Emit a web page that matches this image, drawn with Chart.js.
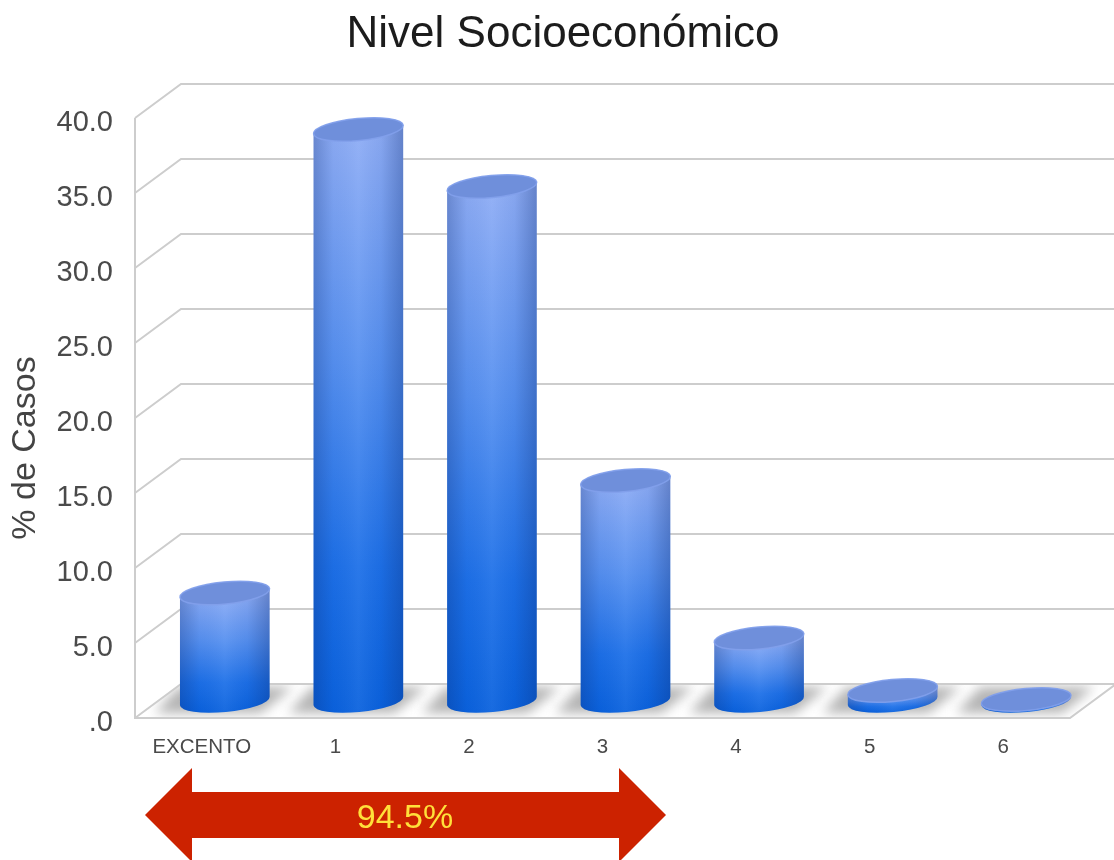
<!DOCTYPE html>
<html lang="es">
<head>
<meta charset="utf-8">
<title>Nivel Socioeconómico</title>
<script src="https://cdn.jsdelivr.net/npm/chart.js@4"></script>
<style>
    html, body { margin: 0; padding: 0; background: #fff; overflow: hidden; }
    canvas { display: block; }
</style>
</head>
<body>
<canvas id="chartNivel" width="1114" height="860"></canvas>
<script>
// Datos
const categorias = ['EXCENTO', '1', '2', '3', '4', '5', '6'];
const porcentajes = [7.2, 38.1, 34.3, 14.7, 4.2, 0.7, 0.1];
const etiquetasY = ['.0', '5.0', '10.0', '15.0', '20.0', '25.0', '30.0', '35.0', '40.0'];
const titulo = 'Nivel Socioeconómico';
const tituloEjeY = '% de Casos';
const textoFlecha = '94.5%';

const FUENTE = "'Liberation Sans', Arial, sans-serif";

// Profundidad de la caja 3D
const PROF_X = 46;
const PROF_Y = 34;
const RADIO_Y = 11;
const GIRO = -5.5 * Math.PI / 180;

// Paredes, piso y sombras (antes de las barras)
const fondo3D = {
    id: 'fondo3D',
    beforeDatasetsDraw(chart) {
        const ctx = chart.ctx;
        const y = chart.scales.y;
        const area = chart.chartArea;
        const suelo = y.getPixelForValue(0);

        ctx.save();
        // sombras recortadas al piso
        ctx.save();
        ctx.beginPath();
        ctx.moveTo(area.left, suelo);
        ctx.lineTo(area.right, suelo);
        ctx.lineTo(area.right + PROF_X, suelo - PROF_Y);
        ctx.lineTo(area.left + PROF_X, suelo - PROF_Y);
        ctx.closePath();
        ctx.clip();
        ctx.filter = 'blur(6px)';
        ctx.fillStyle = '#b4b4b4';
        chart.getDatasetMeta(0).data.forEach(barra => {
            const cx = barra.x + PROF_X / 2;
            ctx.beginPath();
            ctx.moveTo(cx - 46, suelo - PROF_Y + 3);
            ctx.lineTo(cx + 68, suelo - PROF_Y + 3);
            ctx.lineTo(cx + 36, suelo - 5);
            ctx.lineTo(cx - 70, suelo - 5);
            ctx.closePath();
            ctx.fill();
        });
        ctx.restore();

        // rejilla
        ctx.strokeStyle = '#cdcdcd';
        ctx.lineWidth = 2;
        y.ticks.forEach(tick => {
            const py = y.getPixelForValue(tick.value);
            ctx.beginPath();
            ctx.moveTo(area.left, py);
            ctx.lineTo(area.left + PROF_X, py - PROF_Y);
            ctx.lineTo(chart.width, py - PROF_Y);
            ctx.stroke();
        });
        // eje vertical y borde del piso
        ctx.beginPath();
        ctx.moveTo(area.left, area.top);
        ctx.lineTo(area.left, suelo);
        ctx.lineTo(area.right, suelo);
        ctx.lineTo(area.right + PROF_X, suelo - PROF_Y);
        ctx.stroke();
        ctx.restore();
    }
};

// Cilindros a partir de los elementos de barra de Chart.js
const cilindros = {
    id: 'cilindros',
    afterDatasetsDraw(chart) {
        const ctx = chart.ctx;
        chart.getDatasetMeta(0).data.forEach(barra => {
            const cx = barra.x + PROF_X / 2;
            const arriba = barra.y - PROF_Y / 2;
            const abajo = barra.base - PROF_Y / 2;
            const rx = barra.width / 2;

            const cuerpo = () => {
                ctx.beginPath();
                ctx.ellipse(cx, abajo, rx, RADIO_Y, GIRO, 0, Math.PI);
                ctx.ellipse(cx, arriba, rx, RADIO_Y, GIRO, Math.PI, Math.PI * 2);
                ctx.closePath();
            };

            // degradado vertical
            const vert = ctx.createLinearGradient(0, arriba, 0, abajo + RADIO_Y);
            vert.addColorStop(0, '#8fadf5');
            vert.addColorStop(0.4, '#5690f0');
            vert.addColorStop(0.75, '#1d70e8');
            vert.addColorStop(1, '#0a62de');
            cuerpo();
            ctx.fillStyle = vert;
            ctx.fill();

            // sombreado horizontal
            const horiz = ctx.createLinearGradient(cx - rx, 0, cx + rx, 0);
            horiz.addColorStop(0, 'rgba(10, 40, 110, 0.28)');
            horiz.addColorStop(0.22, 'rgba(10, 40, 110, 0.04)');
            horiz.addColorStop(0.5, 'rgba(255, 255, 255, 0.06)');
            horiz.addColorStop(0.75, 'rgba(10, 40, 110, 0.05)');
            horiz.addColorStop(1, 'rgba(10, 40, 110, 0.32)');
            cuerpo();
            ctx.fillStyle = horiz;
            ctx.fill();

            // tapa superior
            ctx.beginPath();
            ctx.ellipse(cx, arriba, rx, RADIO_Y, GIRO, 0, Math.PI * 2);
            ctx.fillStyle = '#6f8fdb';
            ctx.fill();
            ctx.strokeStyle = 'rgba(130, 160, 235, 0.9)';
            ctx.lineWidth = 1.5;
            ctx.stroke();
        });
    }
};

// Título, eje Y y flecha de anotación
const anotaciones = {
    id: 'anotaciones',
    afterDraw(chart) {
        const ctx = chart.ctx;
        ctx.save();
        ctx.textAlign = 'center';
        ctx.textBaseline = 'middle';
        ctx.fillStyle = '#1c1c1c';
        ctx.font = '44px ' + FUENTE;
        ctx.fillText(titulo, 563, 35);

        ctx.save();
        ctx.translate(26, 448);
        ctx.rotate(-Math.PI / 2);
        ctx.fillStyle = '#444';
        ctx.font = '34px ' + FUENTE;
        ctx.fillText(tituloEjeY, 0, 0);
        ctx.restore();

        // flecha doble
        ctx.beginPath();
        ctx.moveTo(145, 815);
        ctx.lineTo(192, 768);
        ctx.lineTo(192, 792);
        ctx.lineTo(619, 792);
        ctx.lineTo(619, 768);
        ctx.lineTo(666, 815);
        ctx.lineTo(619, 862);
        ctx.lineTo(619, 838);
        ctx.lineTo(192, 838);
        ctx.lineTo(192, 862);
        ctx.closePath();
        ctx.fillStyle = '#cc2200';
        ctx.fill();

        ctx.fillStyle = '#ffe03a';
        ctx.font = '34px ' + FUENTE;
        ctx.fillText(textoFlecha, 405, 819);
        ctx.restore();
    }
};

new Chart(document.getElementById('chartNivel'), {
    type: 'bar',
    data: {
        labels: categorias,
        datasets: [{
            data: porcentajes,
            backgroundColor: 'rgba(0, 0, 0, 0)',
            barPercentage: 0.674,
            categoryPercentage: 1
        }]
    },
    options: {
        responsive: false,
        animation: false,
        layout: { padding: { top: 118, right: 44, left: 0, bottom: 0 } },
        plugins: {
            legend: { display: false },
            tooltip: { enabled: false }
        },
        scales: {
            x: {
                grid: { display: false },
                border: { display: false },
                afterFit: scale => { scale.height = 142; },
                ticks: {
                    padding: 9,
                    color: '#4a4a4a',
                    maxRotation: 0,
                    autoSkip: false,
                    font: { family: FUENTE, size: 20.5 }
                }
            },
            y: {
                min: 0,
                max: 40,
                grid: { display: false },
                border: { display: false },
                afterFit: scale => { scale.width = 135; },
                ticks: {
                    stepSize: 5,
                    padding: 14,
                    labelOffset: 5,
                    color: '#4a4a4a',
                    font: { family: FUENTE, size: 29 },
                    callback: (valor, i) => etiquetasY[i]
                }
            }
        }
    },
    plugins: [fondo3D, cilindros, anotaciones]
});
</script>
</body>
</html>
